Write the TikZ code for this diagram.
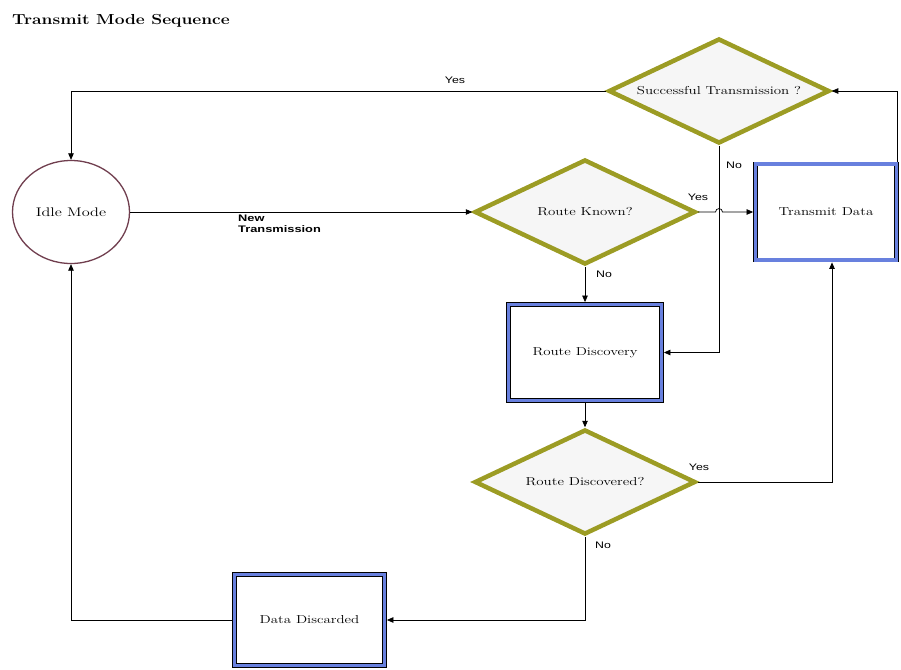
\documentclass[tikz,border=0pt]{standalone}
\usepackage{fontspec}
\usepackage{graphicx}
\usetikzlibrary{shapes.geometric,arrows.meta,calc}
\newfontfamily\lblfont{Liberation Sans}
\definecolor{olivebd}{RGB}{156,156,36}
\definecolor{boxblue}{RGB}{104,128,222}
\definecolor{idlecol}{RGB}{112,62,78}
\definecolor{dfill}{RGB}{246,246,246}
\newcommand\wstr[2]{\scalebox{#1}[1]{#2}}
\begin{document}
\begin{tikzpicture}[x=1pt,y=-1pt,
  dec/.style={diamond, draw=olivebd, line width=4.5pt, fill=dfill, aspect=2,
    inner sep=0pt, minimum width=221pt, minimum height=105pt,
    font=\fontsize{11.5}{13}\selectfont},
  proc/.style={rectangle, draw=black, double=boxblue, double distance=3.2pt,
    line width=0.75pt, fill=white, outer sep=2.4pt, inner sep=0pt,
    font=\fontsize{11.5}{13}\selectfont},
  idle/.style={ellipse, draw=idlecol, line width=1.3pt, fill=white,
    minimum width=117pt, minimum height=103pt, inner sep=0pt,
    font=\fontsize{12.5}{14}\selectfont},
  conn/.style={draw=black, line width=0.75pt, -{Triangle[length=6.5pt,width=5.5pt]}},
  lbl/.style={font=\lblfont\fontsize{9.5}{12}\selectfont, inner sep=0pt},
  ttl/.style={font=\fontsize{14.5}{16}\selectfont\bfseries, inner sep=0pt, anchor=west}
]
\useasboundingbox (0,0) rectangle (901,669);

\node[ttl] (title) at (12,21) {\wstr{1.2}{Transmit Mode Sequence}};

\node[idle] (Idle) at (71,212) {\wstr{1.3}{Idle Mode}};
\node[dec] (ST) at (719,91) {\wstr{1.3}{Successful Transmission ?}};
\node[dec] (RK) at (585,212) {\wstr{1.3}{Route Known?}};
\node[dec] (RD) at (585,482) {\wstr{1.3}{Route Discovered?}};
\node[proc, minimum width=141pt, minimum height=96pt] (TD) at (826,212) {\wstr{1.3}{Transmit Data}};
\node[proc, minimum width=153pt, minimum height=96pt] (RDisc) at (585,352.5) {\wstr{1.3}{Route Discovery}};
\node[proc, minimum width=150pt, minimum height=91pt] (DD) at (309.5,620) {\wstr{1.3}{Data Discarded}};

% connectors
\draw[conn] (ST.west) -| (Idle.north);
\draw[conn] ($(TD.north east)+(-2,0)$) |- (ST.east);
\draw[conn] (ST.south) |- (RDisc.east);
\draw[conn] (Idle.east) -- (RK.west);
\coordinate (hop) at (ST.south |- RK.east);
\draw[conn] (RK.east) -- ($(hop)+(-3.5,0)$) .. controls ($(hop)+(-3.5,-4.5)$) and ($(hop)+(3.5,-4.5)$) .. ($(hop)+(3.5,0)$) -- (TD.west);
\draw[conn] (RK.south) -- (RDisc.north);
\draw[conn] (RDisc.south) -- (RD.north);
\draw[conn] (RD.east) -| ($(TD.south)+(6,0)$);
\draw[conn] (RD.south) |- (DD.east);
\draw[conn] (DD.west) -| (Idle.south);

% labels
\node[lbl] (l1) at (455,80) {\wstr{1.3}{Yes}};
\node[lbl] (l2) at (734,165) {\wstr{1.3}{No}};
\node[lbl, anchor=north west, align=left] (l3) at (238,215) {\wstr{1.35}{\bfseries New}\\[-1pt]\wstr{1.35}{\bfseries Transmission}};
\node[lbl] (l4) at (698,197) {\wstr{1.3}{Yes}};
\node[lbl] (l5) at (604,274) {\wstr{1.3}{No}};
\node[lbl] (l6) at (699,467) {\wstr{1.3}{Yes}};
\node[lbl] (l7) at (603,545) {\wstr{1.3}{No}};
\end{tikzpicture}
\end{document}
